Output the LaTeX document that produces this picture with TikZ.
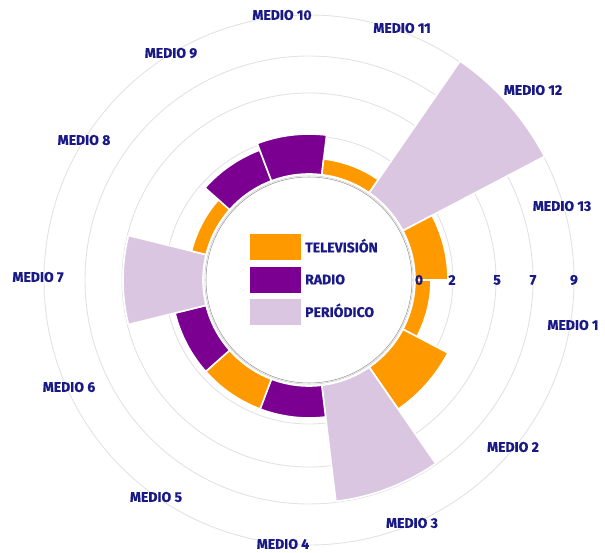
\documentclass[tikz,border=0pt]{standalone}
\usepackage{fontspec}
\setmainfont{Fira Sans}[BoldFeatures={FakeBold=0.5}]
\usetikzlibrary{calc}
\definecolor{tvc}{RGB}{255,153,0}
\definecolor{radioc}{RGB}{123,0,146}
\definecolor{peric}{RGB}{218,198,224}
\definecolor{navyc}{RGB}{26,26,135}
\definecolor{gridc}{RGB}{226,226,226}
\begin{document}
\begin{tikzpicture}[x=1pt,y=1pt,
  lbl/.style={font=\fontsize{14}{16}\selectfont\bfseries, text=navyc, inner sep=0pt},
  sectorbar/.style={draw=white, line width=1.6pt, line join=miter},
  gridring/.style={draw=gridc, line width=0.9pt},
  legbox/.style={minimum width=51pt, minimum height=26pt, inner sep=0pt, draw=none}]
\useasboundingbox (0,0) rectangle (605,552);
\coordinate (c) at (309,272);
% grid rings
\foreach \r in {144,187,224,265} \draw[gridring] (c) circle[radius=\r];
% inner circle
\draw[gray!80, line width=0.55pt] (c) circle[radius=103];
\draw[gray!35, line width=0.6pt] (c) circle[radius=104.2];
% bars
\pgfmathsetmacro{\w}{360/13}
\foreach \k/\R/\col in {1/122/tvc, 2/157/tvc, 3/223/peric, 4/138/radioc, 5/138/tvc, 6/138/radioc, 7/186/peric, 8/121/tvc, 9/139/radioc, 10/146/radioc, 11/122/tvc, 12/266/peric, 13/139/tvc}{
  \pgfmathsetmacro{\aa}{-(\k-1)*\w}
  \pgfmathsetmacro{\ab}{-\k*\w}
  \fill[\col, sectorbar] ($(c)+(\aa:106)$) arc[start angle=\aa, end angle=\ab, radius=106]
     -- ($(c)+(\ab:\R)$) arc[start angle=\ab, end angle=\aa, radius=\R] -- cycle;
}
% sector labels
\node[lbl] (m1) at (573,227) {MEDIO 1};
\node[lbl] (m2) at (513,105) {MEDIO 2};
\node[lbl] (m3) at (412,29) {MEDIO 3};
\node[lbl] (m4) at (283,8) {MEDIO 4};
\node[lbl] (m5) at (156,55) {MEDIO 5};
\node[lbl] (m6) at (69,165) {MEDIO 6};
\node[lbl] (m7) at (38,275) {MEDIO 7};
\node[lbl] (m8) at (84,412) {MEDIO 8};
\node[lbl] (m9) at (171,499) {MEDIO 9};
\node[lbl] (m10) at (282,537) {MEDIO 10};
\node[lbl] (m11) at (402,524) {MEDIO 11};
\node[lbl] (m12) at (533,462) {MEDIO 12};
\node[lbl] (m13) at (562,346) {MEDIO 13};
% axis labels
\node[lbl] (t0) at (419,272) {0};
\node[lbl] (t2) at (452,272) {2};
\node[lbl] (t5) at (497,272) {5};
\node[lbl] (t7) at (533,272) {7};
\node[lbl] (t9) at (574,272) {9};
% legend
\node[legbox, fill=tvc] (ltv) at (275.5,305) {};
\node[legbox, fill=radioc] (lradio) at (275.5,272) {};
\node[legbox, fill=peric] (lperi) at (275.5,240) {};
\node[lbl, anchor=base west] (ttv) at (305,299.7) {TELEVISIÓN};
\node[lbl, anchor=base west] (tradio) at (305,267.7) {RADIO};
\node[lbl, anchor=base west] (tperi) at (305,235) {PERIÓDICO};
\end{tikzpicture}
\end{document}
